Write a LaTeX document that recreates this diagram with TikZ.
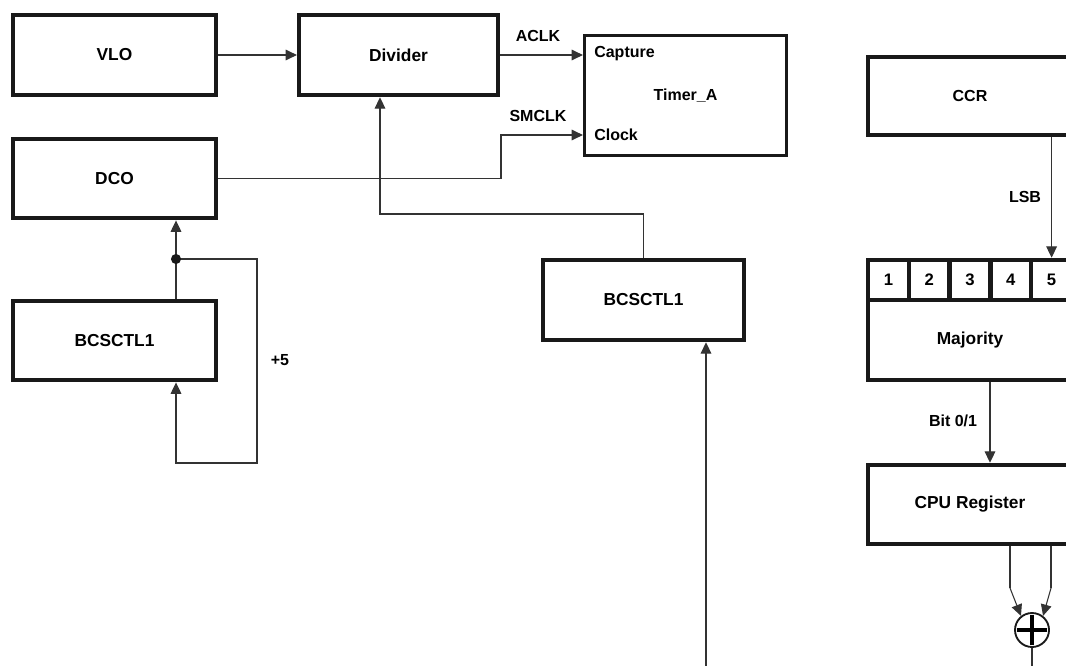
\documentclass[tikz,border=0pt]{standalone}
\usepackage{fontspec}
\setmainfont{Liberation Sans}
\usetikzlibrary{arrows.meta}
\begin{document}
\begin{tikzpicture}[x=0.75pt,y=-0.75pt,
  box/.style={draw=black!90,line width=3.4pt,rectangle,inner sep=0pt,font=\fontsize{13}{15}\selectfont\bfseries},
  cell/.style={draw=black!90,line width=3.4pt,rectangle,inner sep=0pt,minimum width=30.6pt,minimum height=30pt,font=\fontsize{12.5}{15}\selectfont\bfseries},
  lbl/.style={inner sep=0pt,font=\fontsize{12}{14}\selectfont\bfseries},
  wire/.style={draw=black!80,line width=0.8pt},
  arr/.style={wire,-{Triangle[length=8.5pt,width=8pt]}}]
\useasboundingbox (0,0) rectangle (1066,665);
\begin{scope}
\clip (0,0) rectangle (1066,665);
% boxes
\node[box,minimum width=152pt,minimum height=60pt] (vlo) at (114.5,55) {VLO};
\node[box,minimum width=149pt,minimum height=60pt] (div) at (398.5,55) {Divider};
\node[box,line width=2.4pt,minimum width=151.5pt,minimum height=90pt,font=\fontsize{12}{14}\selectfont\bfseries] (timer) at (685.5,95.5) {Timer\_A};
\node[lbl,anchor=west] (cap) at (594,54) {Capture};
\node[lbl,anchor=west] (clk) at (594,135) {Clock};
\node[box,minimum width=153pt,minimum height=58.5pt,font=\fontsize{12}{14}\selectfont\bfseries] (ccr) at (970,96) {CCR};
\node[box,minimum width=152pt,minimum height=59.5pt] (dco) at (114.5,178.5) {DCO};
\node[box,minimum width=152pt,minimum height=59.5pt] (bcl) at (114.5,340.5) {BCSCTL1};
\node[box,minimum width=150.75pt,minimum height=60pt] (bcm) at (643.5,300) {BCSCTL1};
\node[box,minimum width=153pt,minimum height=60pt] (maj) at (970,340) {Majority};
\node[cell] (c1) at (888.4,280) {1};
\node[cell] (c2) at (929.2,280) {2};
\node[cell] (c3) at (970,280) {3};
\node[cell] (c4) at (1010.8,280) {4};
\node[cell] (c5) at (1051.6,280) {5};
\node[box,minimum width=153pt,minimum height=59.25pt] (cpu) at (970,504.5) {CPU Register};
\node[draw=black!90,line width=1.4pt,circle,minimum size=25.5pt,inner sep=0pt] (xor) at (1032,630) {};
\draw[line width=2.6pt,shorten <=2.4pt,shorten >=2.4pt] (xor.west) -- (xor.east);
\draw[line width=2.6pt,shorten <=2.4pt,shorten >=2.4pt] (xor.north) -- (xor.south);
% labels
\node[lbl] (aclk) at (538,36) {ACLK};
\node[lbl] (smclk) at (538,116) {SMCLK};
\node[lbl] (plus5) at (280,360) {+5};
\node[lbl] (lsb) at (1025,197) {LSB};
\node[lbl] (bit) at (953,421) {Bit 0/1};
% coordinates
\coordinate (j1) at (501,178);
\coordinate (j2) at (380,214);
\coordinate (b1) at (706,670);
\coordinate (dot) at (176,259);
\coordinate (j3) at (257,463);
\coordinate (m1) at (990,380);
\coordinate (xl) at (1010,588);
\coordinate (xr) at (1051,588);
% connectors
\draw[arr] (vlo.east) -- (div.west);
\draw[arr] (div.east) -- (div.east -| timer.west);
\draw[arr] (dco.east) -- (dco.east -| j1) |- (clk.west -| timer.west);
\draw[arr] (bcm.north) |- (j2) -- (div.south -| j2);
\draw[arr] (b1) -- (b1 |- bcm.south);
\draw[arr] (bcl.north -| dot) -- (dco.south -| dot);
\draw[arr] (dot) -| (j3) -| (bcl.south -| dot);
\fill[black!90] (dot) circle (3.8pt);
\draw[arr] (ccr.south -| c5) -- (c5.north);
\draw[arr] (maj.south -| m1) -- (cpu.north -| m1);
\draw[wire] (cpu.south -| xl) -- (xl);
\draw[arr] (xl) -- (xor.128);
\draw[wire] (cpu.south -| xr) -- (xr);
\draw[arr] (xr) -- (xor.52);
\draw[wire] (xor.south) -- ++(0,30);
\end{scope}
\end{tikzpicture}
\end{document}
